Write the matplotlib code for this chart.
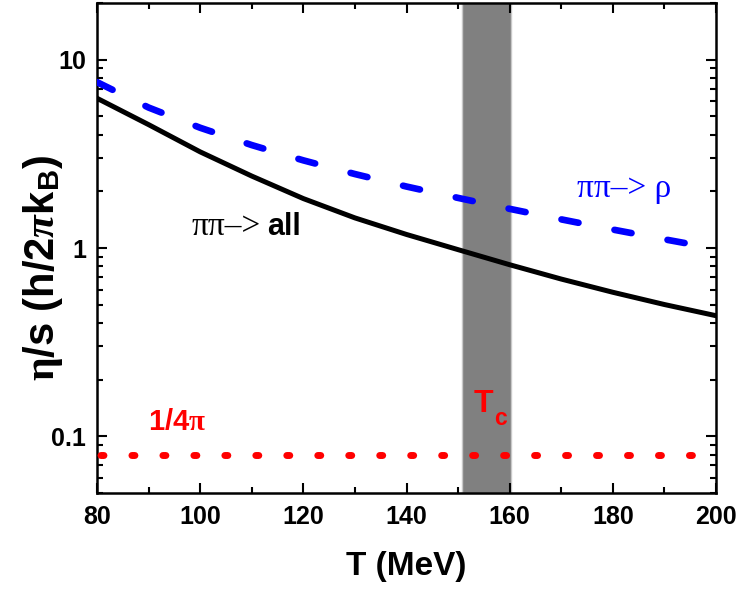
import matplotlib
matplotlib.use("Agg")
import matplotlib.pyplot as plt
from matplotlib.ticker import MultipleLocator, LogLocator, FixedLocator, NullFormatter

plt.rcParams['font.family'] = ['Liberation Sans', 'DejaVu Sans']
plt.rcParams['font.weight'] = 'bold'
plt.rcParams['mathtext.fontset'] = 'custom'
plt.rcParams['mathtext.rm'] = 'Liberation Serif'
plt.rcParams['mathtext.it'] = 'Liberation Serif:italic'
plt.rcParams['mathtext.bf'] = 'Liberation Sans:bold'

# temperature grid (MeV) and eta/s curves
T = [80, 90, 100, 110, 120, 130, 140, 150, 160, 170, 180, 190, 200]
eta_all = [6.24, 4.52, 3.24, 2.41, 1.83, 1.445, 1.18, 0.98, 0.815, 0.684, 0.582, 0.501, 0.437]
eta_rho = [7.60, 5.57, 4.35, 3.52, 2.92, 2.47, 2.12, 1.845, 1.614, 1.419, 1.253, 1.112, 0.991]
kss = 0.0796  # 1/4pi
tc_band = [150.7, 160.3]

fig = plt.figure(figsize=(7.39, 5.91), dpi=100)
ax = fig.add_axes([97/739, 98/591, 619/739, 490/591])

ax.axvspan(tc_band[0], tc_band[1], facecolor='#808080', edgecolor='#c8c8c8', lw=1, zorder=1)

ax.plot(T, eta_all, color='black', lw=3.6, zorder=3)
ax.plot(T, eta_rho, color='#0000ff', lw=4.8, ls=(0, (2.6, 5.5)),
        dash_capstyle='round', zorder=3)
ax.plot(T, [kss] * len(T), color='#ff0000', lw=5.0, ls=(3.96, (0.43, 4.03)),
        dash_capstyle='round', zorder=3)

ax.set_yscale('log')
ax.set_xlim(80, 200)
ax.set_ylim(0.05, 20)

ax.xaxis.set_major_locator(MultipleLocator(20))
ax.xaxis.set_minor_locator(MultipleLocator(10))
ax.yaxis.set_major_locator(FixedLocator([0.1, 1, 10]))
ax.yaxis.set_minor_locator(LogLocator(base=10, subs=range(2, 10)))
ax.yaxis.set_minor_formatter(NullFormatter())
ax.set_yticklabels(['0.1', '1', '10'])

ax.tick_params(which='both', direction='in', top=True, right=True, width=1.5)
ax.tick_params(which='major', length=7.2, labelsize=18, pad=8)
ax.tick_params(axis='x', which='major', pad=9)
ax.tick_params(which='minor', length=4.2)
for sp in ax.spines.values():
    sp.set_linewidth(1.8)

# annotations
ax.text(98.4, 1.17, 'ππ–>', family='Liberation Serif', fontweight='normal',
        fontsize=24, va='baseline', ha='left')
ax.text(113.0, 1.17, 'all', fontsize=22, va='baseline', ha='left')
ax.text(173.0, 1.875, 'ππ–> ρ', family='Liberation Serif', fontweight='normal',
        fontsize=24, color='#0000ff', va='baseline', ha='left')
ax.text(89.9, 0.1085, r'1/4$\mathrm{\pi}$', fontsize=21, color='#ff0000',
        va='baseline', ha='left')
ax.text(152.96, 0.1347, 'T', fontsize=23, color='#ff0000', va='baseline', ha='left')
ax.text(156.97, 0.1144, 'c', fontsize=16.5, color='#ff0000', va='baseline', ha='left')

fig.text(406.5/739, 1 - 575/591, 'T (MeV)', fontsize=24, ha='center', va='baseline')
fig.text(43/739, 1 - 268/591, r'$\mathrm{\eta}$/s (h/2$\mathit{\pi}$k$_\mathbf{B}$)',
         fontsize=30, rotation=90, ha='center', va='center')

fig.savefig('out.png', dpi=100)
